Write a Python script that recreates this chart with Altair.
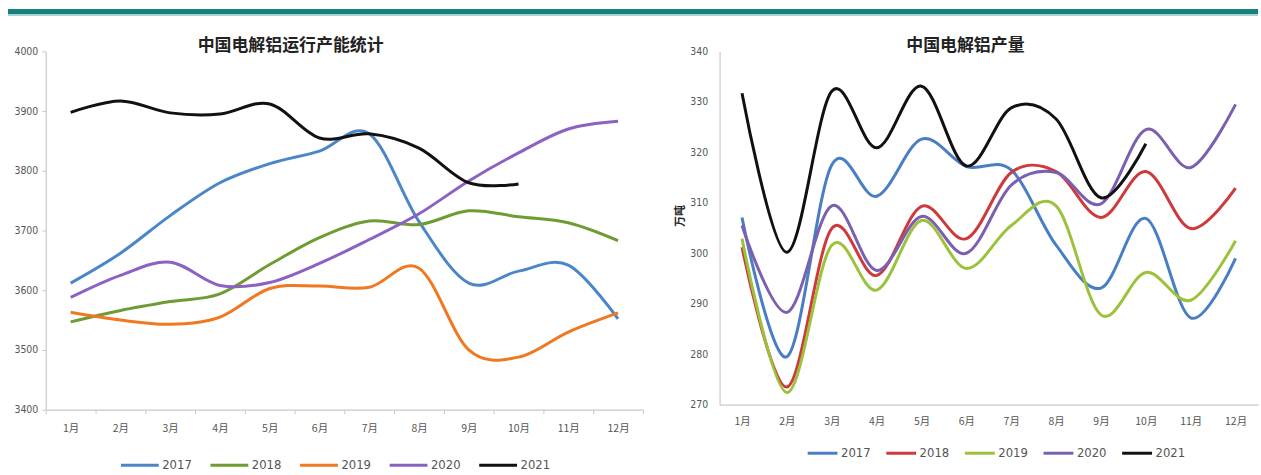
import altair as alt
import pandas as pd

months = ["1月", "2月", "3月", "4月", "5月", "6月", "7月", "8月", "9月", "10月", "11月", "12月"]
years = ["2017", "2018", "2019", "2020", "2021"]

# 中国电解铝运行产能统计 (left)
cap_2017 = [3612, 3662, 3725, 3780, 3812, 3833, 3862, 3715, 3612, 3632, 3642, 3552]
cap_2018 = [3547, 3566, 3581, 3594, 3643, 3688, 3716, 3710, 3733, 3723, 3713, 3683]
cap_2019 = [3563, 3550, 3543, 3555, 3603, 3607, 3605, 3637, 3500, 3488, 3530, 3562]
cap_2020 = [3588, 3625, 3647, 3608, 3613, 3645, 3685, 3728, 3783, 3830, 3870, 3883]
cap_2021 = [3898, 3917, 3897, 3895, 3912, 3855, 3862, 3838, 3780, 3778]

# 中国电解铝产量 (right)
out_2017 = [307.1, 279.5, 317.5, 311.3, 322.6, 317.2, 316.5, 301.6, 293.1, 306.9, 287.2, 299.0]
out_2018 = [301.2, 273.5, 304.9, 295.6, 309.3, 302.9, 316.0, 316.2, 307.1, 316.2, 304.9, 312.9]
out_2019 = [302.9, 272.4, 301.6, 292.7, 306.5, 297.0, 305.5, 309.4, 287.8, 296.2, 290.7, 302.5]
out_2020 = [305.5, 288.3, 309.4, 296.6, 307.3, 300.0, 313.5, 316.0, 309.8, 324.5, 317.0, 329.5]
out_2021 = [331.7, 300.2, 332.1, 320.9, 333.1, 317.3, 328.8, 326.6, 311.0, 321.7]

left_colors = ["#4a86c8", "#6e9c32", "#f07820", "#8b62c4", "#111111"]
right_colors = ["#4a7ec4", "#d0393b", "#9cc23c", "#7b5fb0", "#111111"]

left_title = "中国电解铝运行产能统计"
right_title = "中国电解铝产量"

NUM_FONT = "Liberation Sans Narrow, DejaVu Sans Condensed, sans-serif"
CJK = "Noto Sans CJK SC"


def long_df(series):
    rows = []
    for y, vals in zip(years, series):
        for m, v in zip(months, vals):
            rows.append({"month": m, "year": y, "value": v})
    return pd.DataFrame(rows)


df_left = long_df([cap_2017, cap_2018, cap_2019, cap_2020, cap_2021])
df_right = long_df([out_2017, out_2018, out_2019, out_2020, out_2021])


def x_enc(ticks):
    return alt.X(
        "month:N", sort=months, bandPosition=0.5,
        scale=alt.Scale(type="band", paddingInner=0, paddingOuter=0),
        axis=alt.Axis(
            title=None, labelAngle=0, labelFont=CJK, labelFontSize=10.5,
            labelColor="#555555", domainColor="#c8c8c8", domainWidth=1.2,
            ticks=ticks, tickBand="extent", tickSize=4, tickColor="#c8c8c8",
            labelPadding=10 if ticks else 12,
        ),
    )


def legend(lx, ly, size, pad):
    return alt.Legend(
        title=None, orient="none", legendX=lx, legendY=ly, direction="horizontal",
        columns=5, symbolType="stroke", symbolSize=size, symbolStrokeWidth=3.5,
        labelFont=NUM_FONT, labelFontSize=13, labelColor="#555555",
        labelOffset=2, columnPadding=pad,
    )


def title_text(txt, x):
    return alt.Chart(pd.DataFrame({"k": [0]})).mark_text(
        text=txt, font=CJK, fontSize=17, fontWeight="bold", color="#222222",
        align="center", baseline="middle",
    ).encode(x=alt.value(x), y=alt.value(-5))


left_lines = alt.Chart(df_left).mark_line(interpolate="cardinal", tension=0).encode(
    x=x_enc(True),
    y=alt.Y("value:Q", scale=alt.Scale(domain=[3400, 4000], nice=False, zero=False),
            axis=alt.Axis(title=None, values=[3400, 3500, 3600, 3700, 3800, 3900, 4000],
                          format="d", grid=False, labelFont=NUM_FONT, labelFontSize=10.5,
                          labelColor="#555555", domainColor="#c8c8c8", domainWidth=1.2,
                          tickSize=4, tickColor="#c8c8c8", labelPadding=4)),
    color=alt.Color("year:N", scale=alt.Scale(domain=years, range=left_colors),
                    legend=legend(74, 395, 1444, 12)),
    strokeWidth=alt.StrokeWidth("year:N", scale=alt.Scale(domain=years, range=[3, 3, 3, 3, 4]),
                                legend=None),
)

bar_df = pd.DataFrame({"k": [0]})
top_bar = alt.Chart(bar_df).mark_rule(color="#15807e", strokeWidth=5).encode(
    x=alt.value(-38), x2=alt.value(1218), y=alt.value(-40))
top_bar2 = alt.Chart(bar_df).mark_rule(color="#a8d4d1", strokeWidth=2).encode(
    x=alt.value(-38), x2=alt.value(1218), y=alt.value(-36.5))

left = alt.layer(top_bar, top_bar2, title_text(left_title, 246), left_lines).properties(
    width=600, height=360,
)

right_lines = alt.Chart(df_right).mark_line(interpolate="cardinal", tension=0).encode(
    x=x_enc(False),
    y=alt.Y("value:Q", scale=alt.Scale(domain=[270, 340], nice=False, zero=False),
            axis=alt.Axis(title="万吨", titleFont=CJK, titleFontSize=11, titleFontWeight="bold",
                          titleColor="#222222", titlePadding=4, titleY=165,
                          values=[270, 280, 290, 300, 310, 320, 330, 340],
                          format="d", grid=False, labelFont=NUM_FONT, labelFontSize=10.5,
                          labelColor="#555555", domainColor="#c8c8c8", domainWidth=1.2,
                          ticks=False, labelPadding=12)),
    color=alt.Color("year:N", scale=alt.Scale(domain=years, range=right_colors),
                    legend=legend(87, 387, 900, 9)),
    strokeWidth=alt.StrokeWidth("year:N", scale=alt.Scale(domain=years, range=[3, 3, 3, 3, 3.5]),
                                legend=None),
)

right = alt.layer(title_text(right_title, 247), right_lines).properties(
    width=541, height=355,
)

chart = alt.hconcat(left, right, spacing=77, bounds="flush").resolve_scale(
    color="independent", strokeWidth="independent"
).properties(
    padding={"left": 5, "top": 7.5, "right": 0, "bottom": 0},
    background="white",
).configure_view(stroke=None)

chart.save("out.html", embed_options={"renderer": "svg", "actions": False})
